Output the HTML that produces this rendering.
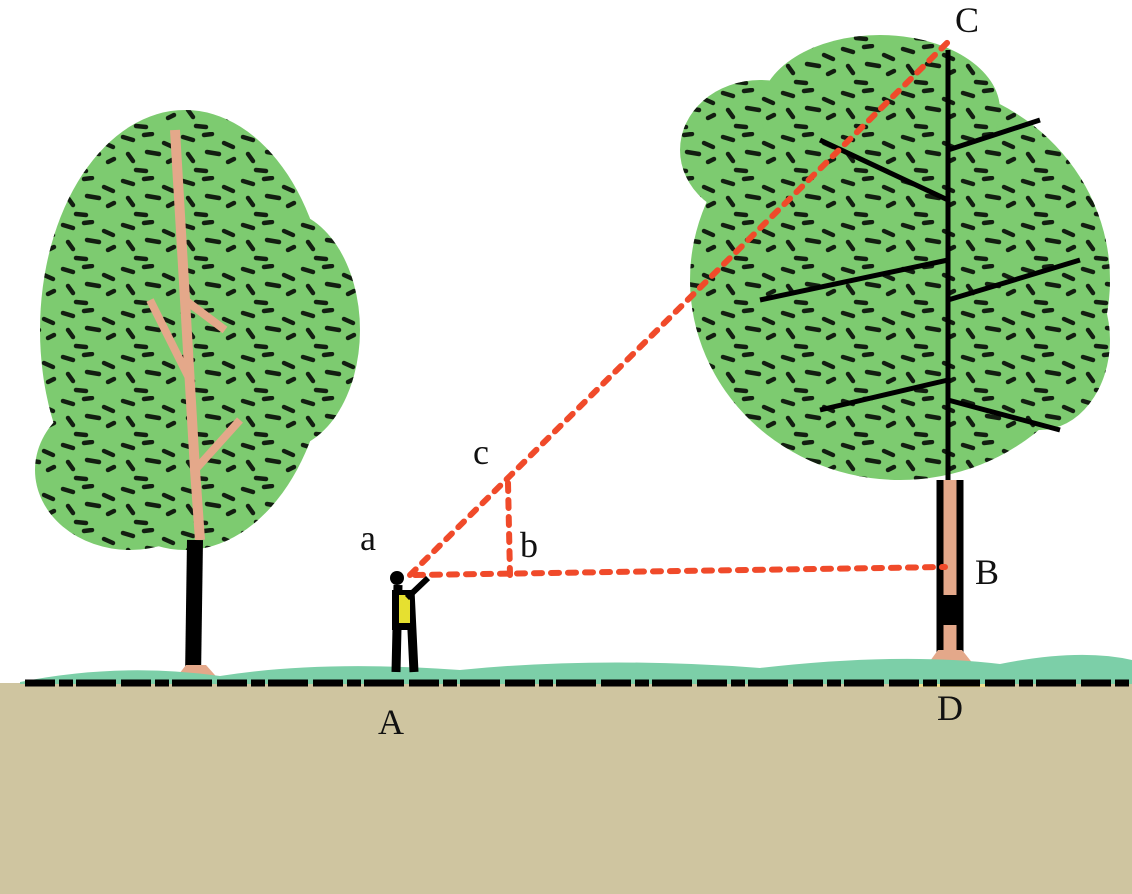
<!DOCTYPE html>
<html><head><meta charset="utf-8"><style>html,body{margin:0;padding:0;background:#fff}svg{display:block}</style></head>
<body>
<svg width="1132" height="894" viewBox="0 0 1132 894" xmlns="http://www.w3.org/2000/svg">
<defs>
<pattern id="spk" width="60" height="44" patternUnits="userSpaceOnUse">
<g stroke="#000" stroke-width="4.5" stroke-linecap="round" fill="none">
<path d="M3 5 l10 3"/><path d="M24 3 l8 -1"/><path d="M44 11 l9 4"/><path d="M8 22 l5 7"/><path d="M27 20 l12 2"/><path d="M48 30 l6 -3"/><path d="M16 38 l10 1"/>
</g></pattern>
<clipPath id="lc"><ellipse cx="185" cy="330" rx="145" ry="220"/><ellipse cx="130" cy="470" rx="95" ry="80"/><ellipse cx="280" cy="330" rx="80" ry="120"/></clipPath>
<clipPath id="rc"><ellipse cx="900" cy="280" rx="210" ry="200"/><ellipse cx="760" cy="150" rx="80" ry="70"/><ellipse cx="1040" cy="340" rx="70" ry="90"/><ellipse cx="880" cy="110" rx="120" ry="75"/></clipPath>
</defs>
<rect x="0" y="683" width="1132" height="211" fill="#cfc5a0"/>
<g fill="#7dcb70">
<ellipse cx="185" cy="330" rx="145" ry="220"/><ellipse cx="130" cy="470" rx="95" ry="80"/><ellipse cx="280" cy="330" rx="80" ry="120"/>
</g>
<g clip-path="url(#lc)"><rect x="0" y="100" width="400" height="500" fill="url(#spk)" opacity="0.85"/></g>
<path d="M175 130 L185 300 L195 470 L200 540" stroke="#e4a88a" stroke-width="10" fill="none"/>
<path d="M185 300 L225 330 M190 380 L150 300 M195 470 L240 420" stroke="#e4a88a" stroke-width="8" fill="none"/>
<path d="M195 540 L193 678" stroke="#000" stroke-width="16"/>
<path d="M186 665 l-14 18 h50 l-16 -18z" fill="#e4a88a"/>
<g fill="#7dcb70">
<ellipse cx="900" cy="280" rx="210" ry="200"/><ellipse cx="760" cy="150" rx="80" ry="70"/><ellipse cx="1040" cy="340" rx="70" ry="90"/><ellipse cx="880" cy="110" rx="120" ry="75"/>
</g>
<g clip-path="url(#rc)"><rect x="660" y="20" width="470" height="470" fill="url(#spk)" opacity="0.85"/></g>
<path d="M948 50 L948 480" stroke="#000" stroke-width="5"/>
<path d="M948 200 L820 140 M948 260 L760 300 M948 300 L1080 260 M948 380 L820 410 M948 400 L1060 430 M948 150 L1040 120" stroke="#000" stroke-width="5" fill="none"/>
<rect x="940" y="480" width="20" height="180" fill="#e4a88a"/>
<path d="M940 480 V660 M960 480 V660" stroke="#000" stroke-width="7"/>
<rect x="940" y="595" width="20" height="30" fill="#000"/>
<path d="M938 650 l-18 25 h62 l-20 -25z" fill="#e4a88a"/>
<rect x="918" y="677" width="70" height="10" fill="#f0dc8c"/>
<path d="M20 682 Q120 662 220 676 Q320 660 460 670 Q600 656 760 668 Q900 652 1000 664 Q1080 648 1132 660 V684 H20z" fill="#7ccfa8"/>
<path d="M25 683 H1132" stroke="#000" stroke-width="7" stroke-dasharray="30 4 14 3 40 5"/>
<path d="M398 585 L396 672 M410 590 L414 672" stroke="#000" stroke-width="9"/>
<rect x="392" y="590" width="20" height="40" fill="#000"/>
<rect x="399" y="595" width="11" height="28" fill="#e6e030"/>
<path d="M407 598 L428 578" stroke="#000" stroke-width="6"/>
<circle cx="397" cy="578" r="7" fill="#000"/>
<g stroke="#f04a2a" stroke-width="6" stroke-linecap="round" stroke-dasharray="8 9" fill="none">
<path d="M410 575 L948 42"/><path d="M415 575 L945 567"/><path d="M508 483 L510 575"/>
</g>
<g font-family="Liberation Serif, serif" font-size="36" fill="#111">
<text x="955" y="32">C</text><text x="360" y="550">a</text><text x="473" y="464">c</text>
<text x="520" y="557">b</text><text x="975" y="584">B</text><text x="378" y="734">A</text><text x="937" y="720">D</text>
</g>
</svg>
</body></html>
